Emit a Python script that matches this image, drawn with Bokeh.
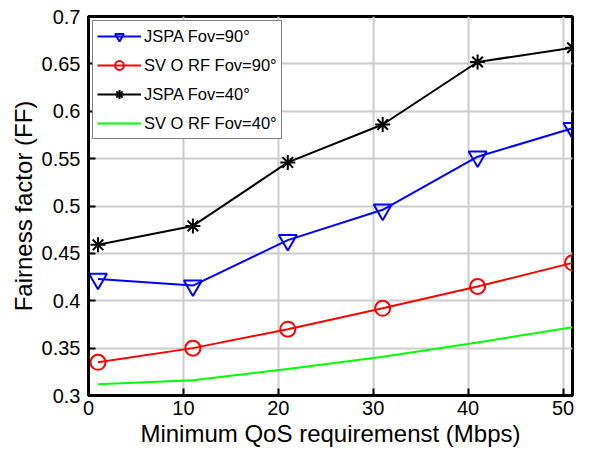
from bokeh.plotting import figure
from bokeh.models import Range1d, FixedTicker, Legend, LegendItem
from bokeh.embed import file_html
from bokeh.resources import INLINE

x = [1, 11, 21, 31, 41, 51]
jspa90 = [0.423, 0.416, 0.464, 0.496, 0.552, 0.582]
svorf90 = [0.335, 0.350, 0.370, 0.392, 0.415, 0.440]
jspa40 = [0.459, 0.479, 0.546, 0.586, 0.652, 0.667]
svorf40 = [0.312, 0.316, 0.328, 0.341, 0.356, 0.372]

xticks = [0, 10, 20, 30, 40, 50]
yticks = [0.3, 0.35, 0.4, 0.45, 0.5, 0.55, 0.6, 0.65, 0.7]
ytick_labels = ["0.3", "0.35", "0.4", "0.45", "0.5", "0.55", "0.6", "0.65", "0.7"]
labels = ["JSPA Fov=90°", "SV O RF Fov=90°", "JSPA Fov=40°", "SV O RF Fov=40°"]

FONT = "Liberation Sans"

p = figure(width=574, height=453, output_backend="svg", toolbar_location=None,
           x_range=Range1d(0, 51), y_range=Range1d(0.3, 0.7),
           min_border_left=88, min_border_right=2, min_border_top=16, min_border_bottom=58)

p.outline_line_color = "black"
p.outline_line_width = 3
p.background_fill_color = "white"
p.border_fill_color = "white"

xax = p.below[0]
yax = p.left[0]

for ax in [xax, yax]:
    ax.axis_line_color = "black"
    ax.axis_line_width = 3
    ax.major_tick_in = 7
    ax.major_tick_out = 0
    ax.minor_tick_line_color = None
    ax.major_tick_line_width = 2
    ax.major_tick_line_color = "black"
    ax.major_label_text_font = FONT
    ax.major_label_text_font_size = "20px"
    ax.major_label_text_color = "black"
    ax.axis_label_text_font = FONT
    ax.axis_label_text_font_size = "24px"
    ax.axis_label_text_font_style = "normal"
    ax.axis_label_text_color = "black"

xax.ticker = FixedTicker(ticks=xticks)
yax.ticker = FixedTicker(ticks=yticks)
yax.major_label_overrides = {t: l for t, l in zip(yticks, ytick_labels)}
xax.axis_label = "Minimum QoS requiremenst (Mbps)"
yax.axis_label = "Fairness factor (FF)"
xax.major_label_standoff = 5
xax.axis_label_standoff = 2
yax.major_label_standoff = 8
yax.axis_label_standoff = 2

p.grid.grid_line_color = "#cccccc"
p.grid.grid_line_width = 2
p.xgrid.ticker = FixedTicker(ticks=xticks)
p.ygrid.ticker = FixedTicker(ticks=yticks)

l1 = p.line(x, jspa90, line_color="#0000ff", line_width=2)
m1 = p.scatter(x, jspa90, marker="inverted_triangle", size=18, line_color="#0000ff",
               line_width=2, fill_color=None)
l2 = p.line(x, svorf90, line_color="#ff0000", line_width=2)
m2 = p.scatter(x, svorf90, marker="circle", size=15, line_color="#ff0000",
               line_width=2, fill_color=None)
l3 = p.line(x, jspa40, line_color="black", line_width=2)
m3 = p.scatter(x, jspa40, marker="asterisk", size=15, line_color="black", line_width=2)
l4 = p.line(x, svorf40, line_color="#00ff00", line_width=2)

legend = Legend(items=[
    LegendItem(label=labels[0], renderers=[l1, m1]),
    LegendItem(label=labels[1], renderers=[l2, m2]),
    LegendItem(label=labels[2], renderers=[l3, m3]),
    LegendItem(label=labels[3], renderers=[l4]),
], location="top_left")
legend.label_text_font = FONT
legend.label_text_font_size = "16.5px"
legend.label_text_color = "black"
legend.border_line_color = "black"
legend.border_line_width = 1
legend.background_fill_alpha = 1
legend.glyph_width = 44
legend.glyph_height = 22
legend.label_height = 22
legend.spacing = 7
legend.padding = 4
legend.margin = 4
legend.label_standoff = 3
p.add_layout(legend)

open("out.html", "w").write(file_html(p, INLINE))
